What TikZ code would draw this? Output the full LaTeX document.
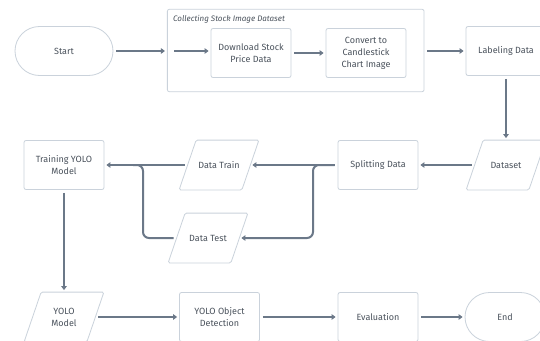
\documentclass[tikz,border=0pt]{standalone}
\usepackage{fontspec}
\setmainfont{Fira Sans}
\usetikzlibrary{arrows.meta}
\definecolor{bd}{HTML}{CAD2DB}
\definecolor{ar}{HTML}{6B7888}
\definecolor{tx}{HTML}{4A525C}
\newcommand\drawpara[1]{\draw[draw=bd,line width=0.8pt,rounded corners=1.5pt]
  ([xshift=8.5pt]#1.north west) -- ([xshift=8.5pt]#1.north east) --
  ([xshift=-8.5pt]#1.south east) -- ([xshift=-8.5pt]#1.south west) -- cycle;}
\begin{document}
\begin{tikzpicture}[x=1pt,y=-1pt,
  box/.style={draw=bd, line width=0.8pt, rounded corners=2pt, minimum width=80pt,
    minimum height=49pt, align=center, text=tx, inner sep=2pt,
    font=\fontsize{9}{12}\selectfont},
  term/.style={box, rounded corners=24.5pt, minimum width=98pt},
  para/.style={box, draw=none, minimum width=62pt},
  grpbox/.style={draw=bd, line width=0.8pt, rounded corners=2pt, minimum width=256.7pt, minimum height=82.4pt, inner sep=0pt},
  grplabel/.style={text=tx, font=\fontsize{8}{10}\selectfont\itshape, anchor=west, inner sep=0pt},
  arr/.style={draw=ar, line width=2pt, -{Triangle[length=4pt,width=5.5pt]}, shorten >=2pt, shorten <=3pt},
  ln/.style={draw=ar, line width=2pt, shorten <=3pt}]
\clip (0,0) rectangle (540,340);
\useasboundingbox (0,0) rectangle (540,340);
\fill[white] (0,0) rectangle (540,340);

% row 1
\node[term] (start) at (64,51) {Start};
\node[grpbox] (grp) at (295.7,50.5) {};
\node[grplabel] (glab) at (173,19) {Collecting Stock Image Dataset};
\node[box] (dl) at (251,53) {Download Stock\\Price Data};
\node[box] (cv) at (366,53) {Convert to\\Candlestick\\Chart Image};
\node[box] (lab) at (506,51) {Labeling Data};
\coordinate (gin) at (174,51);

% row 2
\node[box] (train) at (64,165) {Training YOLO\\Model};
\node[para] (dtr) at (219,165) {Data Train};
\node[box] (split) at (378,165) {Splitting Data};
\node[para] (ds) at (506,165) {Dataset};

% row 3
\node[para] (dte) at (208,238) {Data Test};

% row 4
\node[para] (ym) at (64,317) {YOLO\\Model};
\node[box] (det) at (219.5,317) {YOLO Object\\Detection};
\node[box] (ev) at (378,317) {Evaluation};
\node[term, minimum width=80pt] (end) at (505,317) {End};

\drawpara{dtr}
\drawpara{ds}
\drawpara{dte}
\drawpara{ym}

\coordinate (jn) at (143,165);
\coordinate (jsplit) at (313,165);

% connectors
\draw[arr] (start.east |- gin) -- (gin -| grp.west);
\draw[arr, shorten <=0pt] (gin) -- (gin -| dl.west);
\draw[arr] (dl.east) -- (cv.west);
\draw[arr] (grp.east |- lab) -- (lab.west);
\draw[arr] (lab.south) -- (ds.north);
\draw[arr] (ds.west) -- (split.east);
\draw[arr] (split.west) -- (dtr.east);
\draw[arr, rounded corners=6pt] (split.west) -- (jsplit) |- (dte.east);
\draw[arr] (dtr.west) -- (train.east);
\draw[ln, rounded corners=6pt] (dte.west) -| (jn) -- ([xshift=-10pt]jn);
\draw[arr] (train.south) -- (ym.north);
\draw[arr] (ym.east) -- (det.west);
\draw[arr] (det.east) -- (ev.west);
\draw[arr] (ev.east) -- (end.west);
\end{tikzpicture}
\end{document}
